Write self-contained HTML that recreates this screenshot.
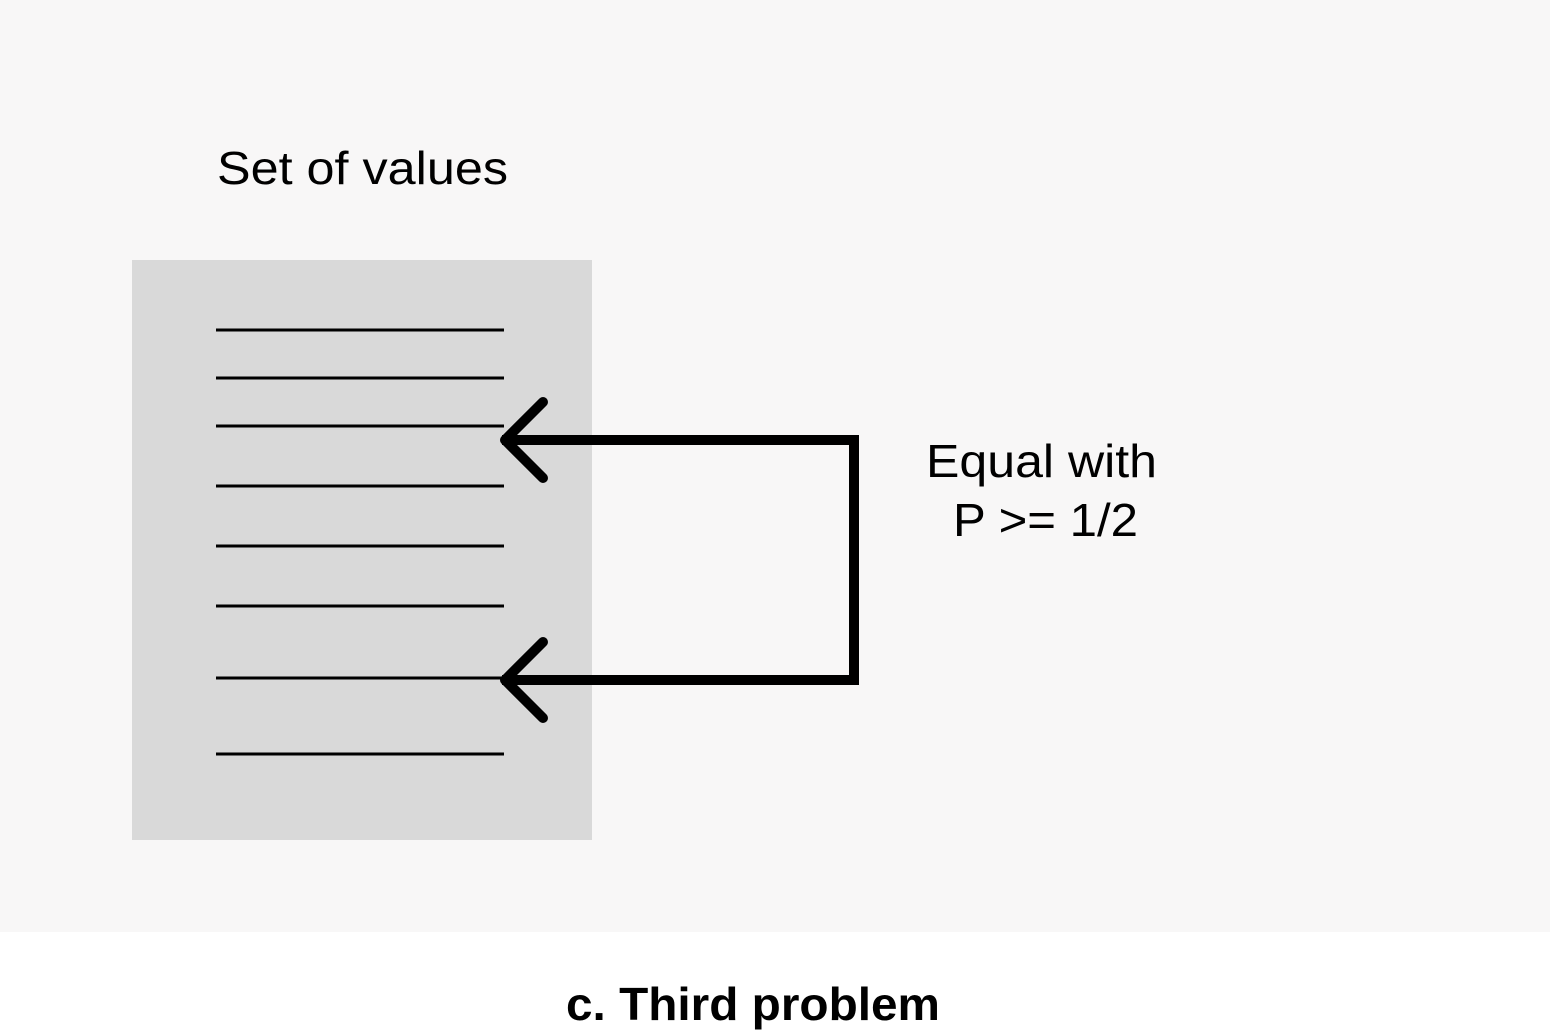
<!DOCTYPE html>
<html><head><style>
html,body{margin:0;padding:0;width:1550px;height:1030px;background:#fff;overflow:hidden}
</style></head><body>
<svg width="1550" height="1030" xmlns="http://www.w3.org/2000/svg" style="display:block">
<rect x="0" y="0" width="1550" height="932" fill="#f8f7f7"/>
<rect x="132" y="260" width="460" height="580" fill="#d9d9d9"/>
<g stroke="#000" stroke-width="3">
<line x1="216" y1="330" x2="504" y2="330"/>
<line x1="216" y1="378" x2="504" y2="378"/>
<line x1="216" y1="426" x2="504" y2="426"/>
<line x1="216" y1="486" x2="504" y2="486"/>
<line x1="216" y1="546" x2="504" y2="546"/>
<line x1="216" y1="606" x2="504" y2="606"/>
<line x1="216" y1="678" x2="504" y2="678"/>
<line x1="216" y1="754" x2="504" y2="754"/>
</g>
<g stroke="#000" stroke-width="10" fill="none">
<polyline points="502,440 854,440 854,680 502,680"/>
<polyline points="543,402 505,440 543,478" stroke-linecap="round" stroke-linejoin="round"/>
<polyline points="543,642 505,680 543,718" stroke-linecap="round" stroke-linejoin="round"/>
</g>
<g font-family="Liberation Sans, sans-serif" font-size="46" fill="#000">
<text x="217" y="184" textLength="291" lengthAdjust="spacingAndGlyphs">Set of values</text>
<text x="926" y="477" textLength="231" lengthAdjust="spacingAndGlyphs">Equal with</text>
<text x="953" y="536" textLength="185" lengthAdjust="spacingAndGlyphs">P &gt;= 1/2</text>
<text x="566" y="1020" font-weight="bold" textLength="374" lengthAdjust="spacingAndGlyphs">c. Third problem</text>
</g>
</svg>
</body></html>
